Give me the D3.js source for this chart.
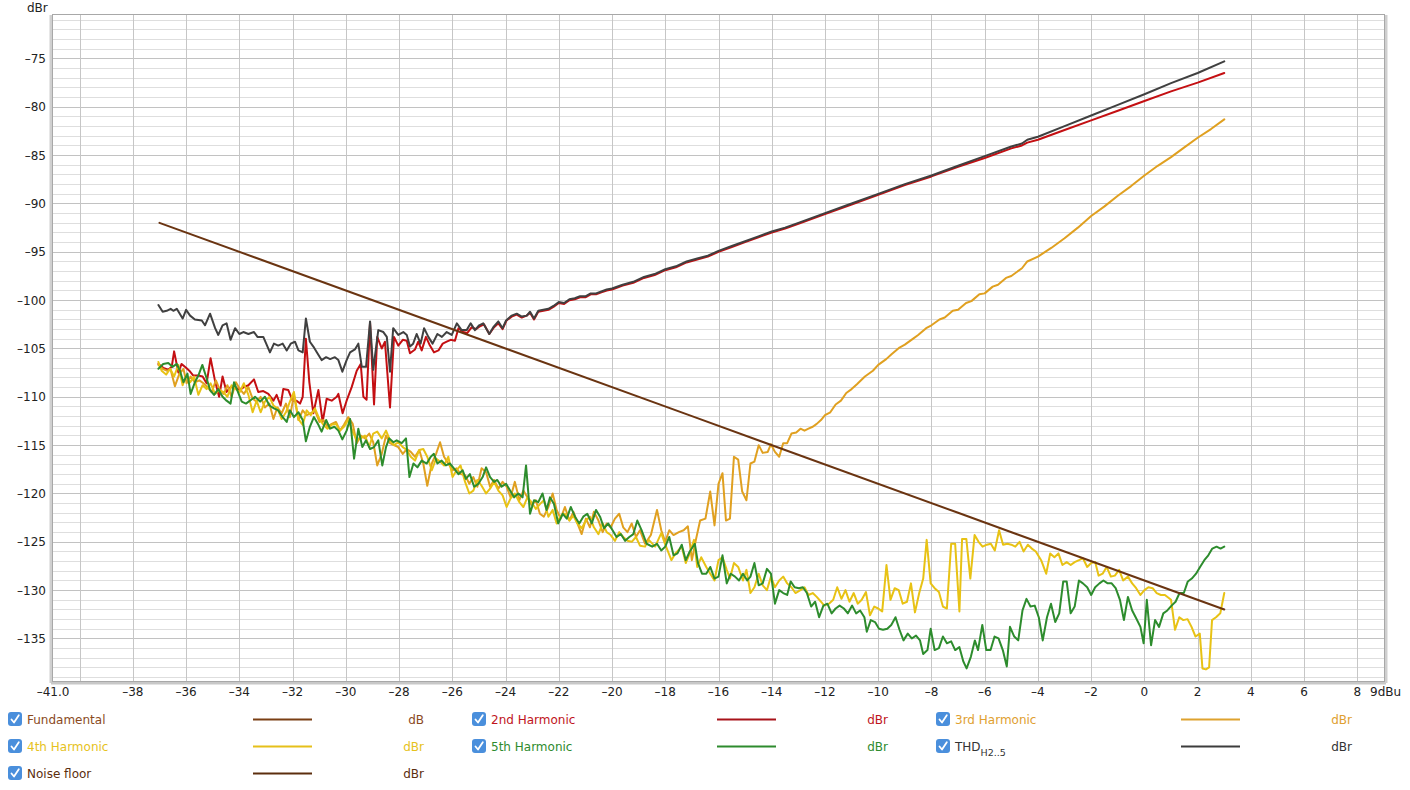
<!DOCTYPE html>
<html><head><meta charset="utf-8">
<script src="https://cdn.jsdelivr.net/npm/d3@7"></script>
<style>
html,body{margin:0;padding:0;background:#fff;}
text{font-family:"DejaVu Sans","Lucida Grande",sans-serif;}
</style></head>
<body><svg id="chart" width="1410" height="790"></svg>
<script>
// ---------------- data ----------------
const xDomain = [-41, 9];
const yDomain = [-139.4, -70.5];
const xTickValues = [-41, -38, -36, -34, -32, -30, -28, -26, -24, -22, -20, -18, -16, -14, -12, -10, -8, -6, -4, -2, 0, 2, 4, 6, 8, 9];
const xTickLabels = ["-41.0", "-38", "-36", "-34", "-32", "-30", "-28", "-26", "-24", "-22", "-20", "-18", "-16", "-14", "-12", "-10", "-8", "-6", "-4", "-2", "0", "2", "4", "6", "8", "9dBu"];
const yTickValues = [-75, -80, -85, -90, -95, -100, -105, -110, -115, -120, -125, -130, -135];
const yAxisTitle = "dBr";

// Fundamental is in dB and lies outside this dBr range: nothing visible
const fundamental = [];

const noiseFloor = [[-37,-92],[-27,-102],[-17,-112],[-7,-122],[3,-132]];

const h2 = [[-37.04,-106.6],[-36.86,-107.0],[-36.67,-107.2],[-36.54,-106.9],[-36.45,-105.3],[-36.29,-107.5],[-36.17,-106.6],[-36.0,-107.0],[-35.88,-107.3],[-35.73,-107.8],[-35.54,-107.8],[-35.38,-107.9],[-35.23,-108.6],[-35.08,-106.0],[-34.91,-108.4],[-34.76,-110.0],[-34.63,-107.9],[-34.48,-109.5],[-34.33,-109.0],[-34.16,-109.0],[-34.0,-109.3],[-33.83,-109.0],[-33.66,-108.8],[-33.45,-108.2],[-33.29,-109.5],[-33.1,-109.4],[-32.91,-109.7],[-32.72,-110.4],[-32.6,-109.8],[-32.45,-110.9],[-32.35,-109.2],[-32.16,-109.3],[-32.0,-110.4],[-31.85,-110.4],[-31.72,-110.7],[-31.62,-110.0],[-31.5,-104.0],[-31.37,-108.5],[-31.22,-111.7],[-31.03,-109.3],[-30.87,-112.6],[-30.72,-110.2],[-30.53,-110.4],[-30.34,-110.0],[-30.28,-109.7],[-30.12,-111.7],[-29.97,-110.4],[-29.78,-109.0],[-29.59,-107.3],[-29.44,-106.6],[-29.34,-110.0],[-29.22,-110.3],[-29.09,-102.3],[-28.94,-110.8],[-28.82,-103.8],[-28.65,-105.0],[-28.53,-104.3],[-28.34,-111.1],[-28.19,-103.8],[-28.03,-104.7],[-27.86,-104.1],[-27.71,-104.2],[-27.59,-105.5],[-27.4,-105.1],[-27.28,-104.3],[-27.15,-105.2],[-26.99,-103.8],[-26.84,-104.7],[-26.69,-105.4],[-26.52,-105.2],[-26.36,-104.5],[-26.21,-104.3],[-26.06,-104.1],[-25.9,-104.2],[-25.77,-102.9],[-25.59,-103.3],[-25.44,-103.4],[-25.27,-102.8],[-25.11,-103.0],[-24.96,-102.7],[-24.81,-102.5],[-24.61,-103.5],[-24.43,-102.8],[-24.27,-102.4],[-24.11,-103.0],[-23.96,-102.1],[-23.77,-101.7],[-23.58,-101.5],[-23.39,-101.8],[-23.21,-101.6],[-23.08,-101.3],[-22.93,-102.0],[-22.77,-101.2],[-22.58,-101.1],[-22.39,-101.0],[-22.2,-100.7],[-22.0,-100.3],[-21.8,-100.4],[-21.6,-100.0],[-21.4,-99.9],[-21.2,-99.7],[-21.0,-99.7],[-20.8,-99.4],[-20.6,-99.4],[-20.4,-99.2],[-20.2,-99.0],[-20.0,-98.9],[-19.6,-98.5],[-19.2,-98.2],[-18.8,-97.7],[-18.4,-97.4],[-18.0,-96.9],[-17.6,-96.6],[-17.2,-96.1],[-16.8,-95.8],[-16.4,-95.5],[-16.0,-95.0],[-15.5,-94.5],[-15.0,-94.0],[-14.5,-93.5],[-14.0,-93.0],[-13.5,-92.6],[-13.0,-92.1],[-12.0,-91.1],[-11.0,-90.1],[-10.0,-89.1],[-9.0,-88.1],[-8.0,-87.2],[-7.0,-86.2],[-6.0,-85.3],[-5.0,-84.3],[-4.6,-84.0],[-4.4,-83.7],[-4.0,-83.4],[-3.0,-82.4],[-2.0,-81.4],[-1.0,-80.4],[0.0,-79.4],[1.0,-78.4],[2.0,-77.5],[3.0,-76.5]];

const thd = [[-37.04,-100.5],[-36.88,-101.2],[-36.73,-101.1],[-36.58,-100.9],[-36.48,-101.1],[-36.35,-100.9],[-36.13,-101.9],[-36.0,-101.0],[-35.85,-101.6],[-35.67,-102.0],[-35.41,-102.1],[-35.29,-102.6],[-35.1,-101.4],[-34.91,-102.9],[-34.79,-103.6],[-34.63,-102.6],[-34.48,-102.4],[-34.33,-104.1],[-34.16,-102.9],[-34.0,-103.5],[-33.85,-103.3],[-33.66,-103.5],[-33.45,-103.3],[-33.32,-103.8],[-33.1,-103.8],[-32.85,-105.4],[-32.7,-104.5],[-32.54,-104.7],[-32.37,-104.5],[-32.22,-105.2],[-32.07,-104.5],[-31.91,-104.3],[-31.78,-105.2],[-31.62,-105.4],[-31.5,-101.9],[-31.35,-104.3],[-31.22,-104.8],[-31.09,-105.4],[-30.91,-106.2],[-30.74,-105.9],[-30.59,-106.1],[-30.41,-105.9],[-30.28,-106.2],[-30.13,-107.4],[-29.97,-106.2],[-29.84,-105.4],[-29.66,-105.1],[-29.53,-104.5],[-29.4,-106.9],[-29.24,-106.9],[-29.09,-102.2],[-28.97,-107.2],[-28.78,-103.1],[-28.59,-103.3],[-28.46,-103.8],[-28.34,-107.4],[-28.22,-102.9],[-28.03,-103.6],[-27.84,-103.3],[-27.71,-103.6],[-27.59,-104.8],[-27.47,-104.5],[-27.34,-103.5],[-27.19,-104.5],[-27.06,-102.9],[-26.9,-103.8],[-26.74,-104.5],[-26.56,-103.5],[-26.39,-103.8],[-26.21,-103.3],[-26.02,-103.6],[-25.83,-102.4],[-25.65,-103.1],[-25.46,-103.1],[-25.31,-102.4],[-25.15,-103.1],[-24.99,-102.6],[-24.84,-102.4],[-24.61,-103.5],[-24.46,-102.8],[-24.27,-102.2],[-24.11,-102.9],[-23.98,-102.1],[-23.77,-101.6],[-23.58,-101.4],[-23.39,-101.7],[-23.2,-101.6],[-23.08,-101.2],[-22.93,-101.9],[-22.77,-101.1],[-22.58,-101.0],[-22.39,-100.9],[-22.2,-100.6],[-22.0,-100.2],[-21.8,-100.3],[-21.6,-99.9],[-21.4,-99.8],[-21.2,-99.6],[-21.0,-99.6],[-20.8,-99.3],[-20.6,-99.3],[-20.4,-99.1],[-20.2,-98.9],[-20.0,-98.8],[-19.6,-98.4],[-19.2,-98.1],[-18.8,-97.6],[-18.4,-97.3],[-18.0,-96.8],[-17.6,-96.5],[-17.2,-96.0],[-16.8,-95.7],[-16.4,-95.4],[-16.0,-94.9],[-15.5,-94.4],[-15.0,-93.9],[-14.5,-93.4],[-14.0,-92.9],[-13.5,-92.5],[-13.0,-92.0],[-12.0,-91.0],[-11.0,-90.0],[-10.0,-89.0],[-9.0,-88.0],[-8.0,-87.1],[-7.0,-86.1],[-6.0,-85.1],[-5.0,-84.1],[-4.6,-83.8],[-4.4,-83.4],[-4.0,-83.1],[-3.0,-82.0],[-2.0,-80.9],[-1.0,-79.8],[0.0,-78.7],[1.0,-77.55],[2.0,-76.5],[3.0,-75.3]];

const h3 = [[-37.04,-106.7],[-36.88,-107.1],[-36.73,-107.3],[-36.58,-107.2],[-36.42,-108.9],[-36.25,-107.6],[-36.1,-107.1],[-35.98,-108.6],[-35.83,-107.9],[-35.67,-108.5],[-35.5,-108.3],[-35.35,-108.6],[-35.2,-109.0],[-35.04,-109.5],[-34.88,-108.3],[-34.73,-109.3],[-34.58,-109.7],[-34.45,-108.8],[-34.29,-110.0],[-34.13,-108.5],[-33.98,-109.2],[-33.83,-109.7],[-33.66,-109.0],[-33.5,-110.2],[-33.35,-110.5],[-33.2,-110.0],[-33.04,-111.1],[-32.87,-110.7],[-32.72,-112.3],[-32.57,-111.1],[-32.41,-111.7],[-32.25,-110.7],[-32.1,-112.1],[-31.95,-109.8],[-31.78,-112.4],[-31.62,-111.4],[-31.47,-111.9],[-31.32,-111.7],[-31.16,-111.4],[-30.99,-112.6],[-30.84,-112.4],[-30.69,-113.1],[-30.53,-112.8],[-30.37,-112.6],[-30.22,-113.5],[-30.07,-112.9],[-29.91,-112.1],[-29.74,-112.8],[-29.59,-114.8],[-29.44,-114.0],[-29.28,-114.3],[-29.12,-113.8],[-28.97,-114.7],[-28.82,-117.1],[-28.65,-115.9],[-28.49,-114.0],[-28.34,-114.8],[-28.19,-115.0],[-28.03,-115.2],[-27.86,-115.9],[-27.71,-115.4],[-27.56,-115.7],[-27.4,-116.2],[-27.24,-115.5],[-27.09,-116.9],[-26.94,-119.2],[-26.77,-116.9],[-26.61,-115.9],[-26.46,-114.7],[-26.31,-116.2],[-26.15,-116.9],[-25.99,-117.6],[-25.84,-117.4],[-25.69,-118.0],[-25.52,-118.1],[-25.36,-119.0],[-25.21,-118.3],[-25.06,-119.3],[-24.9,-117.4],[-24.73,-117.8],[-24.58,-119.3],[-24.43,-118.6],[-24.27,-119.5],[-24.11,-118.8],[-23.96,-119.3],[-23.81,-120.4],[-23.65,-118.8],[-23.48,-120.7],[-23.33,-119.7],[-23.18,-120.4],[-23.02,-121.2],[-22.86,-120.7],[-22.71,-122.1],[-22.56,-122.4],[-22.39,-121.4],[-22.23,-120.0],[-22.08,-121.7],[-21.93,-122.6],[-21.77,-121.4],[-21.6,-122.8],[-21.45,-121.9],[-21.3,-123.1],[-21.14,-124.2],[-20.98,-122.6],[-20.83,-123.5],[-20.68,-121.9],[-20.51,-122.8],[-20.35,-124.0],[-20.2,-123.1],[-20.05,-123.5],[-19.89,-122.6],[-19.73,-122.1],[-19.58,-123.5],[-19.42,-124.0],[-19.26,-123.1],[-19.1,-124.5],[-18.95,-123.8],[-18.76,-125.2],[-18.54,-124.3],[-18.31,-121.7],[-18.15,-123.8],[-18.0,-125.0],[-17.85,-123.8],[-17.69,-124.3],[-17.49,-124.0],[-17.31,-123.8],[-17.15,-123.4],[-17.0,-126.9],[-16.85,-124.8],[-16.69,-122.8],[-16.49,-122.6],[-16.31,-119.8],[-16.15,-123.3],[-16.0,-119.0],[-15.85,-117.9],[-15.72,-122.8],[-15.57,-122.6],[-15.42,-116.2],[-15.26,-116.5],[-15.11,-119.8],[-14.95,-120.7],[-14.8,-116.9],[-14.65,-116.7],[-14.49,-115.0],[-14.34,-115.8],[-14.15,-115.7],[-14.03,-114.9],[-13.88,-115.7],[-13.72,-116.2],[-13.57,-114.8],[-13.42,-114.8],[-13.26,-113.8],[-13.08,-113.7],[-12.92,-113.3],[-12.77,-113.5],[-12.62,-113.3],[-12.46,-113.1],[-12.31,-112.8],[-12.15,-112.4],[-12.0,-111.9],[-11.8,-111.6],[-11.6,-110.8],[-11.4,-110.4],[-11.2,-109.6],[-11.0,-109.2],[-10.8,-108.7],[-10.5,-107.9],[-10.2,-107.3],[-10.0,-106.7],[-9.7,-106.1],[-9.5,-105.6],[-9.2,-104.9],[-9.0,-104.6],[-8.7,-104.0],[-8.5,-103.6],[-8.2,-102.9],[-8.0,-102.6],[-7.7,-102.0],[-7.5,-101.8],[-7.2,-101.1],[-7.0,-101.0],[-6.7,-100.3],[-6.5,-100.1],[-6.2,-99.4],[-6.0,-99.3],[-5.7,-98.6],[-5.5,-98.4],[-5.2,-97.7],[-5.0,-97.5],[-4.6,-96.7],[-4.4,-96.0],[-4.0,-95.5],[-3.5,-94.6],[-3.0,-93.6],[-2.5,-92.5],[-2.0,-91.3],[-1.5,-90.3],[-1.0,-89.2],[-0.5,-88.2],[0.0,-87.1],[0.5,-86.1],[1.0,-85.2],[1.5,-84.2],[2.0,-83.2],[2.5,-82.3],[3.0,-81.3]];

const h4 = [[-37.04,-106.4],[-36.92,-107.3],[-36.75,-107.7],[-36.6,-107.1],[-36.45,-107.9],[-36.29,-106.7],[-36.13,-108.8],[-36.0,-107.8],[-35.85,-108.5],[-35.7,-107.9],[-35.54,-109.8],[-35.38,-108.8],[-35.23,-109.2],[-35.08,-108.6],[-34.91,-109.7],[-34.76,-109.3],[-34.6,-109.5],[-34.45,-110.0],[-34.29,-108.8],[-34.13,-109.2],[-33.98,-109.5],[-33.83,-108.6],[-33.66,-109.8],[-33.5,-111.6],[-33.35,-110.4],[-33.2,-111.6],[-33.04,-110.5],[-32.87,-110.0],[-32.72,-110.9],[-32.57,-111.2],[-32.41,-112.3],[-32.25,-111.6],[-32.1,-110.5],[-31.95,-109.5],[-31.78,-112.3],[-31.62,-112.9],[-31.47,-111.4],[-31.32,-111.9],[-31.16,-111.2],[-30.99,-112.3],[-30.84,-112.9],[-30.69,-113.3],[-30.53,-112.9],[-30.37,-112.8],[-30.22,-113.5],[-30.07,-113.1],[-29.91,-112.4],[-29.74,-113.6],[-29.59,-114.5],[-29.44,-114.3],[-29.28,-114.0],[-29.12,-115.2],[-28.97,-113.8],[-28.82,-113.6],[-28.65,-114.3],[-28.49,-113.5],[-28.34,-114.5],[-28.19,-115.0],[-28.03,-114.7],[-27.86,-115.2],[-27.71,-115.5],[-27.56,-116.2],[-27.4,-116.6],[-27.24,-115.5],[-27.09,-115.4],[-26.94,-116.2],[-26.77,-117.6],[-26.61,-116.4],[-26.46,-116.7],[-26.31,-117.1],[-26.15,-116.2],[-25.99,-118.3],[-25.84,-117.6],[-25.69,-117.1],[-25.52,-118.8],[-25.36,-120.0],[-25.21,-119.7],[-25.06,-118.6],[-24.9,-119.2],[-24.73,-120.0],[-24.58,-119.5],[-24.43,-118.8],[-24.27,-119.7],[-24.11,-120.2],[-23.96,-121.4],[-23.81,-120.5],[-23.65,-120.0],[-23.48,-120.9],[-23.33,-121.4],[-23.18,-120.4],[-23.02,-120.9],[-22.86,-121.6],[-22.71,-121.1],[-22.56,-120.7],[-22.39,-122.4],[-22.23,-121.7],[-22.08,-123.1],[-21.93,-122.3],[-21.77,-122.1],[-21.6,-122.8],[-21.45,-122.3],[-21.3,-123.1],[-21.14,-123.6],[-20.98,-122.8],[-20.83,-122.4],[-20.68,-123.5],[-20.51,-124.2],[-20.35,-123.1],[-20.2,-124.0],[-20.05,-124.3],[-19.89,-124.9],[-19.73,-124.0],[-19.58,-124.5],[-19.42,-124.9],[-19.26,-125.0],[-19.1,-124.5],[-18.95,-125.4],[-18.76,-125.5],[-18.62,-124.8],[-18.38,-125.5],[-18.15,-124.1],[-18.0,-125.3],[-17.77,-126.9],[-17.62,-126.2],[-17.38,-125.5],[-17.23,-127.2],[-17.08,-126.2],[-16.92,-124.8],[-16.8,-127.6],[-16.65,-126.6],[-16.46,-127.6],[-16.31,-128.3],[-16.15,-129.0],[-16.0,-126.9],[-15.85,-126.6],[-15.69,-127.9],[-15.57,-128.8],[-15.42,-127.2],[-15.26,-127.6],[-15.08,-129.0],[-14.95,-127.9],[-14.8,-130.3],[-14.65,-129.7],[-14.49,-128.3],[-14.34,-129.5],[-14.18,-130.0],[-14.03,-128.6],[-13.88,-129.7],[-13.72,-129.0],[-13.57,-128.6],[-13.42,-129.3],[-13.26,-129.7],[-13.11,-130.3],[-12.92,-130.0],[-12.77,-129.7],[-12.62,-130.5],[-12.46,-130.3],[-12.31,-130.7],[-12.15,-131.2],[-12.03,-131.6],[-11.85,-131.4],[-11.69,-131.0],[-11.54,-129.7],[-11.38,-130.9],[-11.23,-130.0],[-11.08,-131.2],[-10.92,-130.3],[-10.77,-131.4],[-10.62,-131.0],[-10.46,-130.2],[-10.31,-132.6],[-10.15,-131.7],[-10.0,-131.9],[-9.85,-132.2],[-9.69,-127.4],[-9.54,-131.0],[-9.38,-129.8],[-9.23,-130.0],[-9.08,-131.4],[-8.92,-131.2],[-8.77,-129.3],[-8.62,-132.3],[-8.46,-130.3],[-8.31,-128.8],[-8.18,-124.8],[-8.03,-129.3],[-7.88,-129.8],[-7.72,-130.2],[-7.57,-131.7],[-7.42,-131.9],[-7.26,-125.2],[-7.11,-125.2],[-6.95,-132.2],[-6.85,-124.7],[-6.69,-124.7],[-6.54,-128.8],[-6.38,-124.3],[-6.23,-125.0],[-6.08,-125.5],[-5.92,-125.3],[-5.77,-125.2],[-5.62,-125.9],[-5.46,-123.8],[-5.31,-125.3],[-5.15,-125.2],[-5.0,-125.3],[-4.85,-125.5],[-4.69,-125.0],[-4.54,-126.0],[-4.38,-125.3],[-4.23,-125.7],[-4.08,-126.0],[-3.88,-126.9],[-3.69,-128.3],[-3.54,-126.2],[-3.38,-126.6],[-3.23,-126.2],[-3.08,-127.4],[-2.92,-127.1],[-2.77,-127.4],[-2.62,-127.1],[-2.46,-126.9],[-2.31,-126.7],[-2.15,-127.6],[-2.0,-127.2],[-1.85,-127.1],[-1.72,-128.5],[-1.57,-128.3],[-1.42,-127.6],[-1.26,-128.6],[-1.11,-128.5],[-0.95,-127.9],[-0.8,-129.0],[-0.62,-128.6],[-0.46,-129.3],[-0.31,-129.8],[-0.15,-130.5],[0.0,-130.0],[0.15,-129.7],[0.31,-129.8],[0.46,-130.3],[0.62,-130.5],[0.77,-130.5],[1.0,-131.0],[1.15,-134.1],[1.31,-132.8],[1.46,-133.1],[1.62,-133.0],[1.77,-133.8],[1.92,-134.8],[2.08,-134.5],[2.18,-138.1],[2.31,-138.2],[2.43,-138.0],[2.54,-133.1],[2.69,-132.8],[2.85,-132.4],[2.95,-131.0],[3.0,-130.3]];

const h5 = [[-37.04,-107.1],[-36.86,-106.6],[-36.67,-106.5],[-36.51,-106.9],[-36.35,-106.6],[-36.23,-107.3],[-36.1,-108.5],[-35.95,-107.6],[-35.83,-109.7],[-35.67,-108.5],[-35.54,-107.8],[-35.39,-106.7],[-35.25,-107.9],[-35.1,-109.3],[-34.95,-109.8],[-34.79,-109.2],[-34.63,-110.0],[-34.48,-110.4],[-34.33,-110.7],[-34.2,-108.5],[-34.08,-109.3],[-33.91,-110.5],[-33.75,-110.7],[-33.6,-110.4],[-33.41,-110.0],[-33.22,-110.5],[-33.04,-110.0],[-32.87,-110.9],[-32.7,-111.2],[-32.54,-111.4],[-32.37,-112.1],[-32.22,-112.6],[-32.1,-111.4],[-31.95,-112.1],[-31.78,-111.6],[-31.62,-112.4],[-31.5,-114.6],[-31.35,-113.1],[-31.2,-112.1],[-31.03,-112.9],[-30.91,-113.6],[-30.74,-112.4],[-30.59,-113.3],[-30.43,-113.1],[-30.28,-113.5],[-30.13,-114.4],[-29.97,-113.5],[-29.84,-112.3],[-29.69,-116.4],[-29.53,-113.3],[-29.38,-115.2],[-29.24,-114.5],[-29.09,-115.4],[-28.94,-115.2],[-28.78,-114.5],[-28.63,-117.1],[-28.49,-115.2],[-28.37,-114.3],[-28.21,-114.7],[-28.09,-114.5],[-27.9,-114.8],[-27.74,-114.3],[-27.61,-118.3],[-27.46,-116.9],[-27.31,-117.3],[-27.15,-116.6],[-26.96,-116.9],[-26.81,-116.2],[-26.69,-115.9],[-26.56,-116.9],[-26.4,-116.6],[-26.24,-117.1],[-26.09,-116.9],[-25.94,-117.4],[-25.77,-118.0],[-25.61,-117.6],[-25.49,-118.5],[-25.34,-118.0],[-25.18,-119.3],[-25.02,-119.0],[-24.86,-118.3],[-24.73,-117.3],[-24.58,-118.3],[-24.43,-118.8],[-24.31,-118.6],[-24.15,-119.3],[-23.98,-119.0],[-23.83,-119.7],[-23.68,-120.4],[-23.52,-120.0],[-23.36,-120.4],[-23.23,-117.1],[-23.08,-122.1],[-22.93,-120.7],[-22.77,-120.9],[-22.61,-120.0],[-22.46,-121.7],[-22.33,-120.4],[-22.18,-121.1],[-22.02,-123.1],[-21.85,-122.1],[-21.7,-122.6],[-21.55,-121.4],[-21.39,-122.4],[-21.23,-123.1],[-21.08,-122.4],[-20.93,-122.1],[-20.76,-123.1],[-20.6,-121.7],[-20.45,-122.4],[-20.3,-123.6],[-20.14,-123.1],[-19.98,-123.8],[-19.83,-124.5],[-19.67,-124.2],[-19.51,-124.9],[-19.35,-124.5],[-19.2,-124.2],[-19.05,-122.8],[-18.89,-123.8],[-18.7,-125.2],[-18.49,-125.5],[-18.31,-125.2],[-18.15,-125.9],[-18.0,-125.5],[-17.85,-124.5],[-17.69,-126.4],[-17.54,-126.2],[-17.38,-125.3],[-17.23,-126.9],[-17.08,-126.0],[-16.89,-125.2],[-16.77,-127.2],[-16.62,-128.3],[-16.46,-128.3],[-16.31,-127.6],[-16.15,-128.8],[-16.0,-128.6],[-15.85,-126.4],[-15.69,-129.3],[-15.54,-128.3],[-15.38,-128.6],[-15.23,-129.0],[-15.08,-128.3],[-14.92,-129.0],[-14.8,-128.6],[-14.65,-127.2],[-14.49,-129.5],[-14.34,-129.3],[-14.18,-127.8],[-14.03,-128.3],[-13.88,-131.4],[-13.72,-130.0],[-13.57,-130.3],[-13.42,-130.5],[-13.29,-129.1],[-13.14,-129.7],[-12.98,-129.8],[-12.83,-129.7],[-12.68,-130.3],[-12.52,-131.7],[-12.37,-131.2],[-12.22,-132.8],[-12.06,-131.6],[-11.91,-131.4],[-11.75,-132.4],[-11.6,-131.9],[-11.45,-131.6],[-11.29,-131.9],[-11.14,-132.4],[-10.98,-131.6],[-10.83,-132.4],[-10.68,-132.1],[-10.52,-132.8],[-10.43,-134.3],[-10.28,-133.1],[-10.12,-133.3],[-9.97,-134.0],[-9.82,-134.1],[-9.66,-134.0],[-9.51,-133.6],[-9.35,-132.8],[-9.2,-134.1],[-9.05,-135.2],[-8.89,-134.5],[-8.74,-135.0],[-8.58,-134.7],[-8.43,-135.2],[-8.31,-136.6],[-8.15,-136.2],[-8.03,-134.0],[-7.88,-136.2],[-7.72,-136.0],[-7.57,-134.8],[-7.42,-135.5],[-7.26,-135.3],[-7.11,-136.2],[-6.95,-135.9],[-6.8,-137.4],[-6.68,-138.1],[-6.52,-136.9],[-6.37,-135.2],[-6.25,-136.2],[-6.09,-133.6],[-5.94,-136.2],[-5.78,-136.2],[-5.63,-134.8],[-5.48,-135.0],[-5.32,-136.2],[-5.17,-137.9],[-5.05,-133.8],[-4.89,-134.8],[-4.74,-135.2],[-4.58,-132.1],[-4.43,-130.9],[-4.28,-131.7],[-4.12,-131.6],[-3.97,-132.8],[-3.82,-135.2],[-3.66,-132.8],[-3.51,-131.4],[-3.35,-133.3],[-3.2,-132.4],[-3.05,-129.1],[-2.92,-129.1],[-2.77,-132.4],[-2.62,-131.7],[-2.46,-129.0],[-2.31,-129.3],[-2.15,-129.7],[-2.0,-130.5],[-1.85,-129.7],[-1.69,-129.3],[-1.54,-129.0],[-1.38,-129.3],[-1.23,-129.3],[-1.08,-129.8],[-0.92,-131.0],[-0.77,-133.1],[-0.62,-130.7],[-0.46,-132.1],[-0.31,-132.9],[-0.15,-133.8],[-0.03,-135.5],[0.09,-131.0],[0.25,-135.7],[0.4,-133.1],[0.55,-133.8],[0.71,-132.4],[0.86,-132.1],[1.02,-131.6],[1.17,-131.2],[1.32,-130.3],[1.48,-130.3],[1.63,-129.1],[1.78,-128.8],[1.94,-128.3],[2.09,-127.6],[2.25,-126.9],[2.4,-126.4],[2.55,-125.7],[2.71,-125.5],[2.86,-125.7],[3.0,-125.5]];

const legendItems = [
  {name:"Fundamental",  sub:"",      unit:"dB",  text:"#8a4a1e", line:"#7a3f14"},
  {name:"2nd Harmonic", sub:"",      unit:"dBr", text:"#c0151c", line:"#a8131a"},
  {name:"3rd Harmonic", sub:"",      unit:"dBr", text:"#e0a030", line:"#dea22e"},
  {name:"4th Harmonic", sub:"",      unit:"dBr", text:"#e6c21c", line:"#e6c01a"},
  {name:"5th Harmonic", sub:"",      unit:"dBr", text:"#2e8b2e", line:"#2e8b2e"},
  {name:"THD",          sub:"H2..5", unit:"dBr", text:"#333333", line:"#3c3c3c"},
  {name:"Noise floor",  sub:"",      unit:"dBr", text:"#5c2e0e", line:"#5c2e0e"}
];

// --------------- drawing ---------------
const svg = d3.select("#chart");
const L = 53, R = 1384, T = 15, B = 681;
const x = d3.scaleLinear().domain(xDomain).range([L, R]);
const y = d3.scaleLinear().domain(yDomain).range([B, T]);

svg.append("rect").attr("width",1410).attr("height",790).attr("fill","#fff");

// plot background
svg.append("rect").attr("x",L).attr("y",T).attr("width",R-L).attr("height",B-T).attr("fill","#fff");

// grid
const g = svg.append("g");
const hMinor = d3.range(Math.ceil(yDomain[0]), Math.floor(yDomain[1])+1);
g.selectAll("line.h").data(hMinor).join("line")
  .attr("x1",L).attr("x2",R)
  .attr("y1",d=>Math.round(y(d))+0.5).attr("y2",d=>Math.round(y(d))+0.5)
  .attr("stroke",d=> d%5===0 ? "#c2c2c2" : "#dedede").attr("stroke-width",1);
const vGrid = d3.range(-40, 9, 2);
g.selectAll("line.v").data(vGrid).join("line")
  .attr("y1",T).attr("y2",B)
  .attr("x1",d=>Math.round(x(d))+0.5).attr("x2",d=>Math.round(x(d))+0.5)
  .attr("stroke","#c6c6c6").attr("stroke-width",1);

// frame with shadow
svg.append("line").attr("x1",L-2).attr("x2",L-2).attr("y1",T).attr("y2",B+2).attr("stroke","#d0d0d0").attr("stroke-width",3);
svg.append("line").attr("x1",L-2).attr("x2",R+2).attr("y1",B+2).attr("y2",B+2).attr("stroke","#c8c8c8").attr("stroke-width",3);
svg.append("line").attr("x1",R+2).attr("x2",R+2).attr("y1",T).attr("y2",B+2).attr("stroke","#cfcfcf").attr("stroke-width",3);
svg.append("rect").attr("x",L-0.5).attr("y",T-0.5).attr("width",R-L+1).attr("height",B-T+1)
  .attr("fill","none").attr("stroke","#a8a8a8").attr("stroke-width",1);

// clip
svg.append("clipPath").attr("id","clip").append("rect").attr("x",L).attr("y",T).attr("width",R-L).attr("height",B-T);

const line = d3.line().x(d=>x(d[0])).y(d=>y(d[1]));
const plot = svg.append("g").attr("clip-path","url(#clip)");
const series = [
  {data:h2, color:"#c40f12"},
  {data:h3, color:"#e0a020"},
  {data:h4, color:"#e8c214"},
  {data:h5, color:"#2d8c2d"},
  {data:thd, color:"#404040"},
  {data:noiseFloor, color:"#6a3411"},
  {data:fundamental, color:"#7a3f14"}
];
series.forEach(s=>{
  if (!s.data.length) return;
  plot.append("path").datum(s.data).attr("d",line)
    .attr("fill","none").attr("stroke",s.color).attr("stroke-width",2)
    .attr("stroke-linejoin","round").attr("stroke-linecap","round");
});

// axes labels
const fmtMinus = s => String(s).replace("-", "\u2013");
svg.append("g").selectAll("text").data(yTickValues).join("text")
  .attr("x",46).attr("y",d=>y(d)+4.5).attr("text-anchor","end")
  .attr("font-size",12).attr("fill","#222").text(d=>fmtMinus(d));
svg.append("text").attr("x",27).attr("y",12).attr("font-size",12).attr("fill","#222").text(yAxisTitle);

svg.append("g").selectAll("text").data(xTickValues).join("text")
  .attr("x",(d,i)=> i===xTickValues.length-1 ? x(d)-14 : x(d))
  .attr("y",696)
  .attr("text-anchor",(d,i)=> i===xTickValues.length-1 ? "start" : "middle")
  .attr("font-size",12).attr("fill","#222")
  .text((d,i)=>fmtMinus(xTickLabels[i]));

// legend
const colX = [8, 472, 936];
const rowY = [719, 746, 773];
const lg = svg.append("g");
legendItems.forEach((it,i)=>{
  const cx = colX[i%3], cy = rowY[Math.floor(i/3)];
  const gi = lg.append("g");
  gi.append("rect").attr("x",cx).attr("y",cy-7).attr("width",14).attr("height",14).attr("rx",3)
    .attr("fill","#4a8fdc");
  gi.append("path").attr("d",`M${cx+3.5},${cy+0.5} L${cx+6},${cy+3.5} L${cx+10.8},${cy-3.8}`)
    .attr("fill","none").attr("stroke","#fff").attr("stroke-width",1.8).attr("stroke-linecap","round").attr("stroke-linejoin","round");
  const t = gi.append("text").attr("x",cx+19).attr("y",cy+4.5).attr("font-size",12).attr("fill",it.text);
  t.append("tspan").text(it.name);
  if (it.sub) t.append("tspan").attr("dy",5).attr("font-size",9.5).text(it.sub);
  gi.append("line").attr("x1",cx+245).attr("x2",cx+304).attr("y1",cy+0.5).attr("y2",cy+0.5)
    .attr("stroke",it.line).attr("stroke-width",2);
  gi.append("text").attr("x",cx+416).attr("y",cy+4.5).attr("text-anchor","end").attr("font-size",12)
    .attr("fill",it.text).text(it.unit);
});
</script></body></html>
